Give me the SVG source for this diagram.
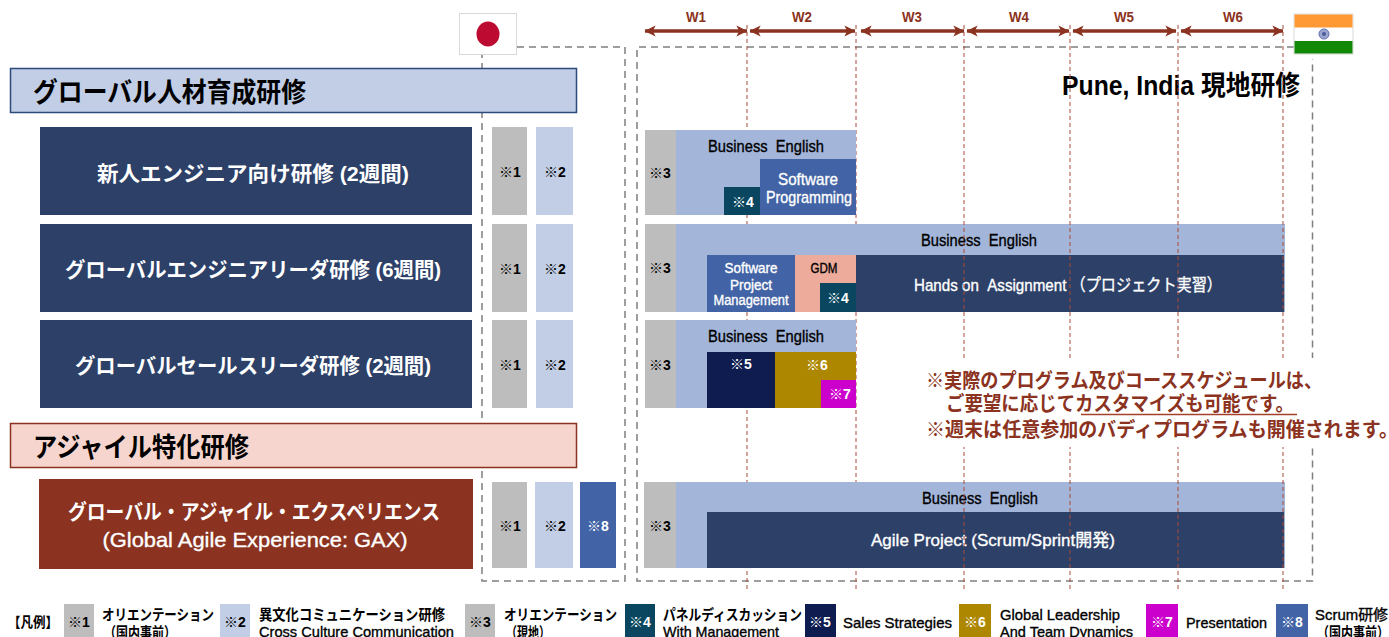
<svg xmlns="http://www.w3.org/2000/svg" width="1389" height="637" viewBox="0 0 1389 637">
<defs>
<marker id="ah" viewBox="0 0 10 10" refX="9.500" refY="5" markerWidth="3.200" markerHeight="3.600" orient="auto-start-reverse" markerUnits="strokeWidth"><path d="M0 0L10 5L0 10L2.500 5Z" fill="#8B3220"/></marker>
</defs>
<style>
text{font-family:"Liberation Sans","Noto Sans CJK JP",sans-serif;font-weight:700;dominant-baseline:central;text-anchor:middle;fill:#000}
.l{text-anchor:start}
.w{fill:#fff}
.r{fill:#8B3220}
.s{font-size:14px}
.n{font-weight:400;stroke:#000;stroke-width:.35}
.n.w{stroke:#fff}
.bar{font-size:17px}
.t{font-size:21px;fill:#fff}
.h{font-size:27px;text-anchor:start}
.lg{font-size:15px;text-anchor:start}
.key{font-size:14px}
.grey{fill:#BDBDBD}.pale{fill:#C1CEE6}.lb{fill:#A3B5D9}.mb{fill:#4263A5}.nv{fill:#2C4068}.tl{fill:#0A4660}.dn{fill:#0F1C50}.gd{fill:#AD8700}.mg{fill:#CC00CC}.sa{fill:#ECAB9B}
.dash{fill:none;stroke:#7F7F7F;stroke-width:1.500;stroke-dasharray:7 5}
.wk{fill:none;stroke:#A84A38;stroke-width:1;stroke-dasharray:4 3}
.arr{fill:none;stroke:#8B3220;stroke-width:3.500;marker-start:url(#ah);marker-end:url(#ah)}
</style>
<rect width="1389" height="637" fill="#fff"/>

<g id="connectors">
<path class="dash" d="M517 47H625V581H482V55"/>
<path class="dash" d="M1294 47H637V581H1312.500V59"/>
<path class="wk" d="M747 25V590M856 25V590"/>
<path class="arr" d="M645 31H747"/>
<path class="arr" d="M750 31H855"/>
<path class="arr" d="M861 31H964"/>
<path class="arr" d="M967 31H1069"/>
<path class="arr" d="M1073 31H1176"/>
<path class="arr" d="M1181 31H1283"/>
</g>

<g id="week-labels">
<text class="r s" x="696" y="17" textLength="20" lengthAdjust="spacingAndGlyphs">W1</text>
<text class="r s" x="802" y="17" textLength="20" lengthAdjust="spacingAndGlyphs">W2</text>
<text class="r s" x="912" y="17" textLength="20" lengthAdjust="spacingAndGlyphs">W3</text>
<text class="r s" x="1019" y="17" textLength="20" lengthAdjust="spacingAndGlyphs">W4</text>
<text class="r s" x="1124" y="17" textLength="20" lengthAdjust="spacingAndGlyphs">W5</text>
<text class="r s" x="1233" y="17" textLength="20" lengthAdjust="spacingAndGlyphs">W6</text>
</g>

<g id="flag-japan"><rect x="459.500" y="13.500" width="57" height="41" fill="#fff" stroke="#D9D9D9"/><ellipse cx="488" cy="34" rx="11.500" ry="12.500" fill="#BC0A30"/></g>
<g id="flag-india"><rect x="1294" y="14" width="59" height="40" fill="#fff" stroke="#D9D9D9"/><rect x="1294.500" y="14.500" width="58" height="13" fill="#FF9933"/><rect x="1294.500" y="41" width="58" height="12.500" fill="#128807"/><circle cx="1324" cy="34" r="5" fill="#9AA5D0" stroke="#6070B0"/><circle cx="1324" cy="34" r="2" fill="#4A5A9A"/></g>

<g id="pune-title"><text x="1181" y="86" font-size="27" textLength="238" lengthAdjust="spacingAndGlyphs">Pune, India 現地研修</text></g>

<g id="header-global"><rect x="10.500" y="68.500" width="566" height="44" fill="#C1CEE6" stroke="#2C4A7C" stroke-width="1.500"/><text class="h" x="33" y="93" textLength="273" lengthAdjust="spacingAndGlyphs">グローバル人材育成研修</text></g>
<g id="course-new"><rect class="nv" x="40" y="127" width="432" height="88"/><text class="t" x="253" y="173" textLength="312" lengthAdjust="spacingAndGlyphs">新人エンジニア向け研修 (2週間)</text></g>
<g id="course-leader"><rect class="nv" x="40" y="224" width="432" height="88"/><text class="t" x="253" y="269" textLength="376" lengthAdjust="spacingAndGlyphs">グローバルエンジニアリーダ研修 (6週間)</text></g>
<g id="course-sales"><rect class="nv" x="40" y="320" width="432" height="88"/><text class="t" x="253" y="365" textLength="356" lengthAdjust="spacingAndGlyphs">グローバルセールスリーダ研修 (2週間)</text></g>
<g id="header-agile"><rect x="10.500" y="423.500" width="566" height="44" fill="#F5D5CD" stroke="#8B3220" stroke-width="1.500"/><text class="h" x="33" y="448" textLength="216" lengthAdjust="spacingAndGlyphs">アジャイル特化研修</text></g>
<g id="course-gax"><rect x="39" y="479" width="434" height="90" fill="#8B3220"/><text class="t" x="254" y="511" textLength="372" lengthAdjust="spacingAndGlyphs">グローバル・アジャイル・エクスペリエンス</text><text class="t n w" x="255" y="539" textLength="305" lengthAdjust="spacingAndGlyphs">(Global Agile Experience: GAX)</text></g>

<g id="pre-new"><rect class="grey" x="492" y="127" width="35" height="88"/><rect class="pale" x="536" y="127" width="37" height="88"/><text class="s" x="510" y="172">※1</text><text class="s" x="555" y="172">※2</text></g>
<g id="pre-leader"><rect class="grey" x="492" y="224" width="35" height="88"/><rect class="pale" x="536" y="224" width="37" height="88"/><text class="s" x="510" y="269">※1</text><text class="s" x="555" y="269">※2</text></g>
<g id="pre-sales"><rect class="grey" x="492" y="320" width="35" height="88"/><rect class="pale" x="536" y="320" width="37" height="88"/><text class="s" x="510" y="365">※1</text><text class="s" x="555" y="365">※2</text></g>
<g id="pre-gax"><rect class="grey" x="492" y="482" width="35" height="86"/><rect class="pale" x="535" y="482" width="38" height="86"/><rect class="mb" x="580" y="482" width="36" height="86"/><text class="s" x="510" y="526">※1</text><text class="s" x="555" y="526">※2</text><text class="s w" x="598" y="526">※8</text></g>

<g id="plan-new"><rect class="grey" x="645" y="130" width="31" height="85"/><rect class="lb" x="676" y="130" width="180" height="85"/><rect class="mb" x="760" y="159" width="96" height="56"/><rect class="tl" x="724" y="187" width="36" height="28"/>
<text class="s" x="660" y="173">※3</text><text class="bar n" x="766" y="146" textLength="116" lengthAdjust="spacingAndGlyphs">Business&#160;&#160;English</text><text class="bar n w" x="808" y="179" textLength="60" lengthAdjust="spacingAndGlyphs">Software</text><text class="bar n w" x="809" y="197" textLength="86" lengthAdjust="spacingAndGlyphs">Programming</text><text class="s w" x="743" y="202">※4</text></g>

<g id="plan-leader"><rect class="grey" x="645" y="224" width="31" height="88"/><rect class="lb" x="676" y="224" width="609" height="88"/><rect class="mb" x="707" y="255" width="88" height="57"/><rect class="sa" x="795" y="255" width="61" height="57"/><rect class="tl" x="820" y="283" width="36" height="29"/><rect class="nv" x="856" y="255" width="428" height="57"/>
<text class="s" x="660" y="268">※3</text><text class="bar n" x="979" y="240" textLength="116" lengthAdjust="spacingAndGlyphs">Business&#160;&#160;English</text><text class="s n w" x="751" y="268" textLength="53" lengthAdjust="spacingAndGlyphs">Software</text><text class="s n w" x="751" y="285" textLength="42" lengthAdjust="spacingAndGlyphs">Project</text><text class="s n w" x="751" y="300" textLength="75" lengthAdjust="spacingAndGlyphs">Management</text><text class="s n" x="824" y="268" textLength="27" lengthAdjust="spacingAndGlyphs">GDM</text><text class="s w" x="838" y="298">※4</text><text class="bar n w" x="1068" y="285" textLength="308" lengthAdjust="spacingAndGlyphs">Hands on&#160;&#160;Assignment （プロジェクト実習）</text></g>

<g id="plan-sales"><rect class="grey" x="645" y="320" width="31" height="88"/><rect class="lb" x="676" y="320" width="180" height="88"/><rect class="dn" x="707" y="352" width="68" height="56"/><rect class="gd" x="775" y="352" width="81" height="56"/><rect class="mg" x="821" y="380" width="35" height="28"/>
<text class="s" x="660" y="365">※3</text><text class="bar n" x="766" y="336" textLength="116" lengthAdjust="spacingAndGlyphs">Business&#160;&#160;English</text><text class="s w" x="741" y="364">※5</text><text class="s w" x="817" y="365">※6</text><text class="s w" x="840" y="394">※7</text></g>

<g id="plan-gax"><rect class="grey" x="644" y="482" width="32" height="86"/><rect class="lb" x="676" y="482" width="609" height="86"/><rect class="nv" x="707" y="512" width="577" height="56"/>
<text class="s" x="660" y="526">※3</text><text class="bar n" x="980" y="498" textLength="116" lengthAdjust="spacingAndGlyphs">Business&#160;&#160;English</text><text class="bar n w" x="993" y="540" textLength="244" lengthAdjust="spacingAndGlyphs">Agile Project (Scrum/Sprint開発)</text></g>

<g id="week-lines-over"><path class="wk" d="M964 25V590M1070 25V590M1178 25V590M1283 25V590"/></g>

<g id="note"><rect x="880" y="358" width="509" height="89" fill="#fff"/>
<text class="r l" x="926" y="381" font-size="20" textLength="396" lengthAdjust="spacingAndGlyphs">※実際のプログラム及びコーススケジュールは、</text>
<text class="r l" x="946" y="404" font-size="20" textLength="348" lengthAdjust="spacingAndGlyphs">ご要望に応じてカスタマイズも可能です。</text>
<path d="M1081 414.500H1297" stroke="#A5402C" stroke-width="1.500"/>
<text class="r l" x="926" y="430" font-size="20" textLength="472" lengthAdjust="spacingAndGlyphs">※週末は任意参加のバディプログラムも開催されます。</text></g>

<g id="legend">
<text class="l" x="8" y="622" font-size="14" textLength="50" lengthAdjust="spacingAndGlyphs">【凡例】</text>
<rect class="grey" x="64" y="604" width="30" height="33"/><text class="key" x="79" y="622">※1</text>
<text class="lg" x="102" y="614" textLength="112" lengthAdjust="spacingAndGlyphs">オリエンテーション</text><text class="lg" x="104" y="632" textLength="72" lengthAdjust="spacingAndGlyphs">（国内事前）</text>
<rect class="pale" x="220" y="604" width="30" height="33"/><text class="key" x="235" y="622">※2</text>
<text class="lg" x="259" y="614" textLength="186" lengthAdjust="spacingAndGlyphs">異文化コミュニケーション研修</text><text class="lg n" x="259" y="631" textLength="195" lengthAdjust="spacingAndGlyphs">Cross Culture Communication</text>
<rect class="grey" x="465" y="604" width="30" height="33"/><text class="key" x="480" y="622">※3</text>
<text class="lg" x="504" y="614" textLength="113" lengthAdjust="spacingAndGlyphs">オリエンテーション</text><text class="lg" x="506" y="632" textLength="44" lengthAdjust="spacingAndGlyphs">（現地）</text>
<rect class="tl" x="625" y="604" width="30" height="33"/><text class="key w" x="640" y="622">※4</text>
<text class="lg" x="663" y="614" textLength="139" lengthAdjust="spacingAndGlyphs">パネルディスカッション</text><text class="lg n" x="663" y="631" textLength="116" lengthAdjust="spacingAndGlyphs">With Management</text>
<rect class="dn" x="805" y="604" width="31" height="33"/><text class="key w" x="820" y="622">※5</text>
<text class="lg n" x="843" y="622" textLength="109" lengthAdjust="spacingAndGlyphs">Sales Strategies</text>
<rect class="gd" x="959" y="604" width="32" height="33"/><text class="key w" x="975" y="622">※6</text>
<text class="lg n" x="1000" y="614" textLength="120" lengthAdjust="spacingAndGlyphs">Global Leadership</text><text class="lg n" x="1000" y="631" textLength="133" lengthAdjust="spacingAndGlyphs">And Team Dynamics</text>
<rect class="mg" x="1146" y="604" width="32" height="33"/><text class="key w" x="1162" y="622">※7</text>
<text class="lg n" x="1186" y="622" textLength="81" lengthAdjust="spacingAndGlyphs">Presentation</text>
<rect class="mb" x="1276" y="604" width="32" height="33"/><text class="key w" x="1292" y="622">※8</text>
<text class="lg n" x="1315" y="614" textLength="73" lengthAdjust="spacingAndGlyphs">Scrum研修</text><text class="lg" x="1317" y="632" textLength="72" lengthAdjust="spacingAndGlyphs">（国内事前）</text>
</g>
</svg>
